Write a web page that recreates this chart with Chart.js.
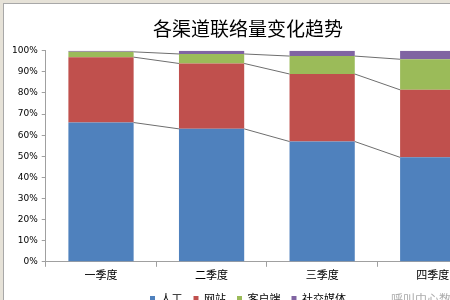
<!DOCTYPE html>
<html lang="zh">
<head>
  <meta charset="UTF-8">
  <title>各渠道联络量变化趋势</title>
  <script src="https://cdn.jsdelivr.net/npm/chart.js"></script>
  <style>
    html, body { margin: 0; padding: 0; width: 450px; height: 300px; overflow: hidden; background: #e6e2d8; }
    #frame { position: absolute; left: 3px; top: 3px; width: 492px; height: 312px; background: #fff; border: 1px solid #a8a8a8; }
    #myChart { position: absolute; left: 0; top: 0; }
  </style>
</head>
<body>
  <div id="frame"><canvas id="myChart" width="490" height="310"></canvas></div>
  <script>
    const quarters = ['一季度', '二季度', '三季度', '四季度'];
    const renGong = [66, 63, 57, 49.5];
    const wangZhan = [31, 31, 32, 32];
    const keHuDuan = [2.5, 4.5, 8.5, 14.5];
    const sheJiao = [0.5, 1.5, 2.5, 4];
    const seriesNames = ['人工', '网站', '客户端', '社交媒体'];
    const seriesColors = ['#4f81bd', '#c0504d', '#9bbb59', '#8064a2'];

    const cjk = '"Noto Sans CJK SC", sans-serif';

    // Excel-style series lines joining the tops of the segments
    const seriesLines = {
      id: 'seriesLines',
      afterDatasetsDraw(chart) {
        const ctx = chart.ctx;
        ctx.save();
        ctx.strokeStyle = '#6e6e6e';
        ctx.lineWidth = 1;
        for (let i = 0; i < 3; i++) {
          const bars = chart.getDatasetMeta(i).data;
          for (let j = 0; j < bars.length - 1; j++) {
            const a = bars[j], b = bars[j + 1];
            ctx.beginPath();
            ctx.moveTo(a.x + a.width / 2, a.y);
            ctx.lineTo(b.x - b.width / 2, b.y);
            ctx.stroke();
          }
        }
        ctx.restore();
      }
    };

    const watermark = {
      id: 'watermark',
      afterDraw(chart) {
        const ctx = chart.ctx;
        ctx.save();
        ctx.fillStyle = 'rgba(150,150,150,0.8)';
        ctx.font = '12px ' + cjk;
        ctx.textBaseline = 'middle';
        ctx.fillText('呼叫中心数', 387, 295);
        ctx.restore();
      }
    };

    const datasets = [renGong, wangZhan, keHuDuan, sheJiao].map(function(vals, i) {
      return {
        label: seriesNames[i],
        data: vals,
        backgroundColor: seriesColors[i],
        borderWidth: 0,
        barPercentage: 0.59,
        categoryPercentage: 1
      };
    });

    var ctx = document.getElementById('myChart').getContext('2d');
    var myChart = new Chart(ctx, {
      type: 'bar',
      data: { labels: quarters, datasets: datasets },
      plugins: [seriesLines, watermark],
      options: {
        responsive: false,
        animation: false,
        layout: { padding: { left: 4, right: 6, top: 0, bottom: 0 } },
        plugins: {
          title: {
            display: true,
            text: '各渠道联络量变化趋势',
            color: '#000',
            font: { family: cjk, size: 19, weight: 'normal' },
            padding: { top: 13, bottom: 11 }
          },
          legend: {
            position: 'bottom',
            labels: {
              boxWidth: 5,
              boxHeight: 5,
              padding: 11,
              color: '#000',
              font: { family: cjk, size: 11 }
            }
          },
          tooltip: { enabled: false }
        },
        scales: {
          x: {
            stacked: true,
            border: { color: '#a0a0a0' },
            grid: { display: true, drawOnChartArea: false, tickLength: 5, color: '#a0a0a0' },
            ticks: { color: '#000', font: { family: cjk, size: 11 }, padding: 1 }
          },
          y: {
            stacked: true,
            min: 0,
            max: 100,
            border: { color: '#a0a0a0' },
            grid: { display: true, drawOnChartArea: false, tickLength: 4, color: '#a0a0a0' },
            ticks: {
              stepSize: 10,
              color: '#000',
              font: { family: '"DejaVu Sans", sans-serif', size: 9 },
              padding: 4,
              callback: function(v) { return v + '%'; }
            }
          }
        }
      }
    });
  </script>
</body>
</html>
